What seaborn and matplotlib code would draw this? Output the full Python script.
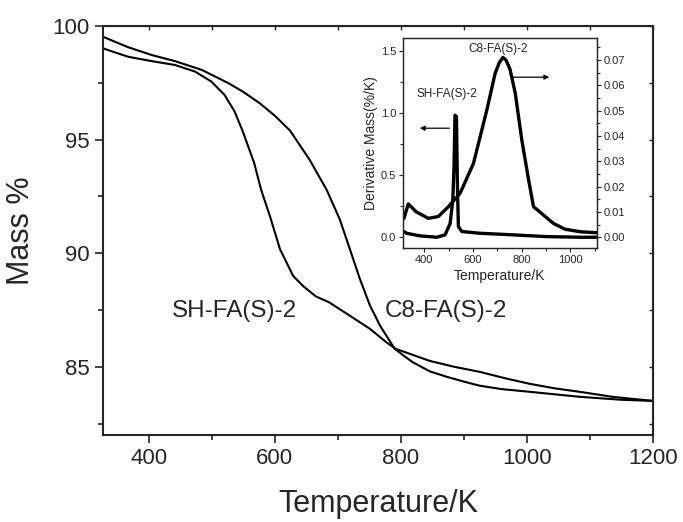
import numpy as np
import matplotlib
matplotlib.use('Agg')
import matplotlib.pyplot as plt
import seaborn as sns
from matplotlib.ticker import MultipleLocator, FormatStrFormatter, NullFormatter

sns.set_style('ticks')
plt.rcParams['font.family'] = ['Liberation Sans', 'DejaVu Sans']

# Main TGA curves (Mass % vs Temperature/K)
sh_temp = [327, 367, 404, 441, 473, 499, 520, 536, 549, 567, 578, 592, 608, 629,
           645, 665, 686, 719, 751, 777, 792, 846, 885, 925, 965, 1005, 1045,
           1084, 1136, 1200]
sh_mass = [99.02, 98.65, 98.46, 98.29, 98.0, 97.56, 96.97, 96.24, 95.36, 93.98,
           92.8, 91.64, 90.18, 89.0, 88.55, 88.1, 87.84, 87.25, 86.67, 86.08,
           85.79, 85.26, 85.0, 84.78, 84.5, 84.25, 84.05, 83.9, 83.68, 83.5]
c8_temp = [327, 367, 404, 441, 484, 526, 550, 576, 600, 624, 655, 682, 703, 719,
           735, 751, 767, 790, 804, 819, 846, 873, 900, 925, 960, 1005, 1084,
           1150, 1200]
c8_mass = [99.53, 99.07, 98.73, 98.46, 98.07, 97.49, 97.1, 96.6, 96.05, 95.4,
           94.12, 92.8, 91.49, 90.18, 88.86, 87.69, 86.81, 85.8, 85.5, 85.2, 84.8,
           84.56, 84.35, 84.17, 84.02, 83.9, 83.68, 83.55, 83.5]

# Inset DTG curves
sh_dtg_temp = [316, 327, 382, 451, 485, 506, 517, 522, 526, 532, 536, 540, 554,
               629, 767, 904, 1041, 1110]
sh_dtg = [0.046, 0.032, 0.011, 0.0, 0.019, 0.11, 0.30, 0.57, 0.98, 0.97, 0.41,
          0.086, 0.046, 0.032, 0.019, 0.005, 0.0, 0.0]
c8_dtg_temp = [316, 334, 366, 416, 457, 499, 547, 602, 657, 691, 708, 723, 736,
               752, 774, 801, 829, 849, 890, 931, 979, 1041, 1110]
c8_dtg = [0.0075, 0.0132, 0.0101, 0.0075, 0.0082, 0.0121, 0.0174, 0.0292, 0.0503,
          0.0647, 0.0690, 0.0711, 0.0700, 0.0665, 0.0569, 0.0384, 0.0226, 0.0121,
          0.0088, 0.0055, 0.0032, 0.0022, 0.0018]

fig = plt.figure(figsize=(6.83, 5.22), dpi=100)
ax = fig.add_axes([0.1508, 0.1667, 0.805, 0.7833])

sns.lineplot(x=sh_temp, y=sh_mass, ax=ax, color='black', lw=1.5)
sns.lineplot(x=c8_temp, y=c8_mass, ax=ax, color='black', lw=1.5)
ax.set_xlim(327, 1200)
ax.set_ylim(82, 100)
ax.xaxis.set_major_locator(MultipleLocator(200))
ax.xaxis.set_minor_locator(MultipleLocator(100))
ax.yaxis.set_major_locator(MultipleLocator(5))
ax.yaxis.set_minor_locator(MultipleLocator(2.5))
ax.tick_params(which='major', direction='out', length=6, width=1.2, labelsize=16)
ax.tick_params(which='minor', direction='out', length=3.5, width=1.2)
for s in ax.spines.values():
    s.set_linewidth(1.5)
    s.set_visible(True)

# inward ticks on top and right, no labels
top = ax.secondary_xaxis('top')
top.xaxis.set_major_locator(MultipleLocator(100))
top.xaxis.set_major_formatter(NullFormatter())
top.tick_params(direction='in', length=3, width=1)
right = ax.secondary_yaxis('right')
right.yaxis.set_major_locator(MultipleLocator(2.5))
right.yaxis.set_major_formatter(NullFormatter())
right.tick_params(direction='in', length=3, width=1)

ax.set_xlabel('Temperature/K', fontsize=22, labelpad=14)
ax.set_ylabel('Mass %', fontsize=22, labelpad=12)
ax.text(235, 87.45, 'SH-FA(S)-2', fontsize=17.5, ha='center', va='center')
ax.text(446, 87.45, 'C8-FA(S)-2', fontsize=17.5, ha='center', va='center')
# labels placed by pixel column inside the axes
ax.texts[0].set_transform(ax.get_yaxis_transform())
ax.texts[0].set_x((235 - 103) / 550)
ax.texts[1].set_transform(ax.get_yaxis_transform())
ax.texts[1].set_x((446 - 103) / 550)

# Inset
axi = fig.add_axes([0.590, 0.525, 0.284, 0.402])
sns.lineplot(x=sh_dtg_temp, y=sh_dtg, ax=axi, color='black', lw=2.4)
axi.set_xlim(312, 1110)
axi.set_ylim(-0.086, 1.60)
axi.xaxis.set_major_locator(MultipleLocator(200))
axi.xaxis.set_minor_locator(MultipleLocator(100))
axi.yaxis.set_major_locator(MultipleLocator(0.5))
axi.yaxis.set_minor_locator(MultipleLocator(0.25))
axi.tick_params(which='major', direction='out', length=3, width=0.8, labelsize=8, pad=2)
axi.tick_params(which='minor', direction='out', length=2, width=0.8)
axi.set_xlabel('Temperature/K', fontsize=10, labelpad=3)
axi.set_ylabel('Derivative Mass(%/K)', fontsize=10, labelpad=2)

axr = axi.twinx()
sns.lineplot(x=c8_dtg_temp, y=c8_dtg, ax=axr, color='black', lw=2.4)
axr.set_ylim(-0.0042, 0.0787)
axr.yaxis.set_major_locator(MultipleLocator(0.01))
axr.yaxis.set_minor_locator(MultipleLocator(0.005))
axr.yaxis.set_major_formatter(FormatStrFormatter('%.2f'))
axr.tick_params(which='major', direction='out', length=3, width=0.8, labelsize=8, pad=2)
axr.tick_params(which='minor', direction='out', length=2, width=0.8)
axr.set_ylabel('')
for a in (axi, axr):
    for s in a.spines.values():
        s.set_linewidth(0.9)
        s.set_visible(True)

axi.text(703, 1.51, 'C8-FA(S)-2', fontsize=8.5, ha='center', va='center')
axi.text(493, 1.15, 'SH-FA(S)-2', fontsize=8.5, ha='center', va='center')
axi.annotate('', xy=(370, 0.876), xytext=(514, 0.876),
             arrowprops=dict(arrowstyle='-|>', color='black', lw=0.9,
                             mutation_scale=7))
axi.annotate('', xy=(925, 1.286), xytext=(753, 1.286),
             arrowprops=dict(arrowstyle='-|>', color='black', lw=0.9,
                             mutation_scale=7))

fig.savefig('out.png', dpi=100)
